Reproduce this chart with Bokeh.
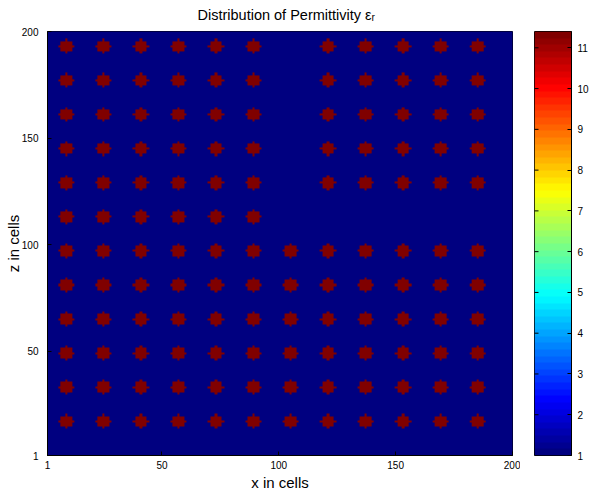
import numpy as np
from bokeh.plotting import figure
from bokeh.models import LinearColorMapper, FixedTicker, Range1d, Title
from bokeh.layouts import row
from bokeh.embed import file_html
from bokeh.resources import INLINE

# ---------------- data ----------------
grid_n = 200
eps_background = 1.0
eps_rod = 11.4
rod_radius = 3  # in cells
x_centers = [9, 25, 41, 57, 73, 89, 105, 121, 137, 153, 169, 185]
z_centers = [17, 33, 49, 65, 81, 97, 113, 129, 145, 161, 177, 193]
# indices of x_centers holding a rod, one list per row (bottom to top)
row_columns = [
    [0, 1, 2, 3, 4, 5, 6, 7, 8, 9, 10, 11],
    [0, 1, 2, 3, 4, 5, 6, 7, 8, 9, 10, 11],
    [0, 1, 2, 3, 4, 5, 6, 7, 8, 9, 10, 11],
    [0, 1, 2, 3, 4, 5, 6, 7, 8, 9, 10, 11],
    [0, 1, 2, 3, 4, 5, 6, 7, 8, 9, 10, 11],
    [0, 1, 2, 3, 4, 5, 6, 7, 8, 9, 10, 11],
    [0, 1, 2, 3, 4, 5],
    [0, 1, 2, 3, 4, 5, 7, 8, 9, 10, 11],
    [0, 1, 2, 3, 4, 5, 7, 8, 9, 10, 11],
    [0, 1, 2, 3, 4, 5, 7, 8, 9, 10, 11],
    [0, 1, 2, 3, 4, 5, 7, 8, 9, 10, 11],
    [0, 1, 2, 3, 4, 5, 7, 8, 9, 10, 11],
]
axis_ticks = [1, 50, 100, 150, 200]
cbar_ticks = [1, 2, 3, 4, 5, 6, 7, 8, 9, 10, 11]
cbar_top = 11.4

title_text = "Distribution of Permittivity εᵣ"
x_label = "x in cells"
z_label = "z in cells"

# ---------------- permittivity grid ----------------
cells = np.arange(1, grid_n + 1)
X, Z = np.meshgrid(cells, cells)
eps = np.full((grid_n, grid_n), eps_background)
for ri, cols in enumerate(row_columns):
    cz = z_centers[ri]
    for ci in cols:
        cx = x_centers[ci]
        eps[(X - cx) ** 2 + (Z - cz) ** 2 <= rod_radius ** 2] = eps_rod

# jet colormap (64 levels)
def jet(n=64):
    out = []
    for i in range(n):
        t = i / (n - 1)
        r = min(max(1.5 - abs(4 * t - 3), 0), 1)
        g = min(max(1.5 - abs(4 * t - 2), 0), 1)
        b = min(max(1.5 - abs(4 * t - 1), 0), 1)
        out.append("#%02x%02x%02x" % (int(round(r * 255)), int(round(g * 255)), int(round(b * 255))))
    return out

palette = jet(64)
mapper = LinearColorMapper(palette=palette, low=eps_background, high=cbar_top)

FONT = "Liberation Sans"

# ---------------- main plot ----------------
p = figure(width=520, height=493, x_range=Range1d(1, 200), y_range=Range1d(1, 200),
           output_backend="svg", toolbar_location=None,
           min_border_left=47, min_border_right=8, min_border_top=31, min_border_bottom=37)
p.image(image=[eps], x=0.5, y=0.5, dw=grid_n, dh=grid_n, color_mapper=mapper)
p.grid.visible = False
p.outline_line_color = "black"
p.outline_line_width = 1
for ax in (p.xaxis, p.yaxis):
    ax.ticker = FixedTicker(ticks=axis_ticks)
    ax.minor_tick_line_color = None
    ax.major_tick_in = 4
    ax.major_tick_out = 0
    ax.axis_line_color = "black"
    ax.major_label_text_font = FONT
    ax.major_label_text_font_size = "10px"
    ax.major_label_text_color = "black"
    ax.axis_label_text_font = FONT
    ax.axis_label_text_font_size = "15px"
    ax.axis_label_text_font_style = "normal"
    ax.axis_label_text_color = "black"
p.xaxis.axis_label = x_label
p.yaxis.axis_label = z_label
p.xaxis.major_label_standoff = 5
p.yaxis.major_label_standoff = 9
p.xaxis.axis_label_standoff = 2
p.yaxis.axis_label_standoff = -3

p.add_layout(Title(text=title_text, align="left", offset=150, standoff=13, vertical_align="top",
                   text_font=FONT, text_font_size="14.5px", text_font_style="normal",
                   text_color="black"), "above")

# ---------------- colorbar ----------------
bar_values = np.linspace(eps_background, cbar_top, 64).reshape(64, 1)
cb = figure(width=71, height=493, x_range=Range1d(0, 1), y_range=Range1d(eps_background, cbar_top),
            y_axis_location="right", output_backend="svg", toolbar_location=None,
            min_border_left=14, min_border_right=18, min_border_top=31, min_border_bottom=37)
cb.image(image=[bar_values], x=0, y=eps_background, dw=1, dh=cbar_top - eps_background,
         color_mapper=mapper)
# inner tick marks on the bar's left edge
cb.scatter(x=[0] * len(cbar_ticks), y=cbar_ticks, marker="dash", size=8,
           line_color="black", line_width=1)
cb.xaxis.visible = False
cb.grid.visible = False
cb.outline_line_color = "black"
cb.yaxis.ticker = FixedTicker(ticks=cbar_ticks)
cb.yaxis.minor_tick_line_color = None
cb.yaxis.major_tick_in = 4
cb.yaxis.major_tick_out = 0
cb.yaxis.major_label_standoff = 6
cb.yaxis.major_label_text_font = FONT
cb.yaxis.major_label_text_font_size = "10px"
cb.yaxis.major_label_text_color = "black"

layout = row(p, cb)
open("out.html", "w").write(file_html(layout, INLINE))
